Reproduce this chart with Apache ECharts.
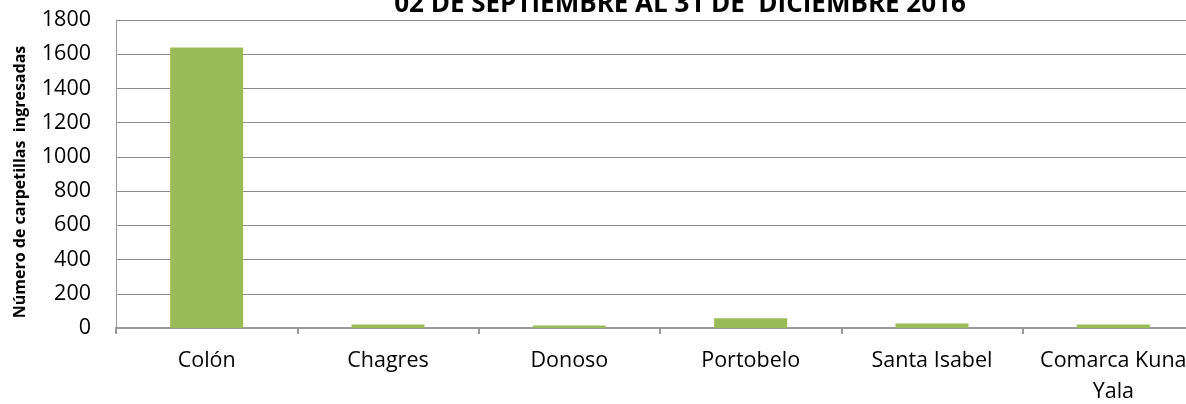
<!DOCTYPE html>
<html>
<head>
<meta charset="utf-8">
<script src="https://cdn.jsdelivr.net/npm/echarts@6/dist/echarts.min.js"></script>
<style>
  html, body { margin: 0; padding: 0; background: #fff; overflow: hidden; }
  /* the source picture is cut off at the right edge, so the chart is a bit wider than the window */
  #chart { width: 1204px; height: 404px; }
</style>
</head>
<body>
<div id="chart"></div>
<script>
  // distritos
  const categories = ['Colón', 'Chagres', 'Donoso', 'Portobelo', 'Santa Isabel', 'Comarca Kuna Yala']
  // carpetillas ingresadas
  const values = [1640, 21, 15, 57, 27, 21]
  const yTicks = [0, 1800, 200]

  const chart = echarts.init(document.getElementById('chart'))
  chart.setOption({
    animation: false,
    textStyle: { fontFamily: 'Open Sans' },
    title: {
      text: '02 DE SEPTIEMBRE AL 31 DE  DICIEMBRE 2016',
      left: 675,
      textAlign: 'center',
      top: -13,
      textStyle: { fontFamily: 'Open Sans', fontWeight: 'bold', fontSize: 26, color: '#000' }
    },
    grid: {
      left: 116,
      right: 0,
      top: 20,
      bottom: 76,
      outerBoundsMode: 'none'
    },
    xAxis: {
      type: 'category',
      data: categories,
      axisLine: { lineStyle: { color: '#999', width: 2 } },
      axisTick: { show: true, length: 6, lineStyle: { color: '#999', width: 2 } },
      axisLabel: {
        color: '#000',
        fontSize: 21.5,
        margin: 17,
        interval: 0,
        lineHeight: 31,
        formatter: v => v.replace('Kuna ', 'Kuna\n')
      }
    },
    yAxis: {
      type: 'value',
      min: yTicks[0],
      max: yTicks[1],
      interval: yTicks[2],
      name: 'Número de carpetillas  ingresadas',
      nameLocation: 'middle',
      nameGap: 88,
      nameTextStyle: { fontFamily: 'Open Sans', fontWeight: 'bold', fontSize: 16, color: '#000', padding: [0, 16, 0, 0] },
      axisLine: { show: true, lineStyle: { color: '#999', width: 1 } },
      axisTick: { show: false },
      axisLabel: { color: '#000', fontSize: 21.5, margin: 25, formatter: v => String(v) },
      splitLine: { lineStyle: { color: '#8c8c8c', width: 1 } }
    },
    series: [{
      type: 'bar',
      data: values,
      barWidth: 73,
      itemStyle: { color: '#9BBB59' }
    }]
  })
</script>
</body>
</html>
